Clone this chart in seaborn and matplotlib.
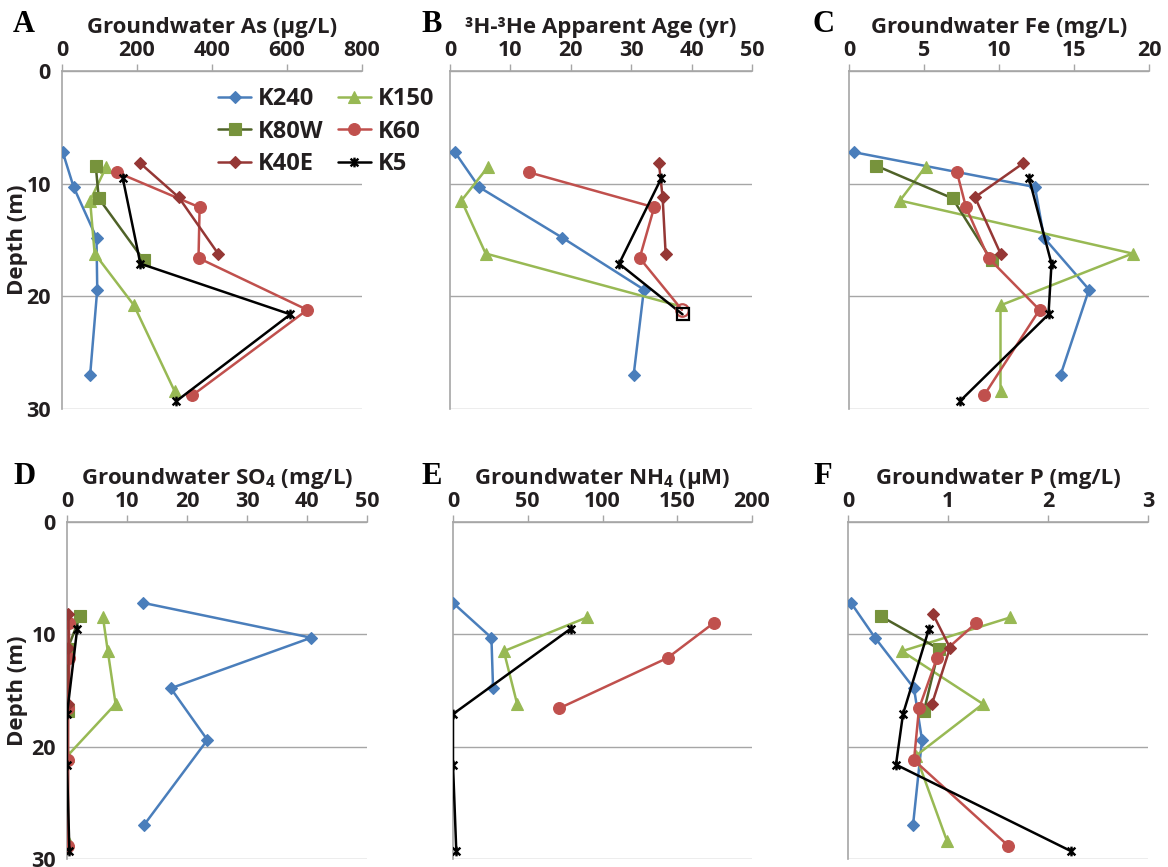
import numpy as np
import matplotlib
matplotlib.use("Agg")
import matplotlib.pyplot as plt
import seaborn as sns
from matplotlib.path import Path

nan = np.nan

WELLS = ["K240", "K150", "K80W", "K60", "K40E", "K5"]

DEPTH = {
    "K240": [7.2, 10.3, 14.8, 19.4, 27.0],
    "K150": [8.5, 11.5, 16.2, 20.8, 28.4],
    "K80W": [8.4, 11.3, 16.8],
    "K60":  [9.0, 12.1, 16.6, 21.2, 28.8],
    "K40E": [8.2, 11.2, 16.2],
    "K5":   [9.5, 17.1, 21.6, 29.3],
}

AS = {
    "K240": [2, 31, 92, 94, 75],
    "K150": [118, 75, 87, 192, 300],
    "K80W": [90, 98, 218],
    "K60":  [147, 367, 364, 654, 347],
    "K40E": [209, 311, 416],
    "K5":   [162, 209, 609, 305],
}

AGE = {
    "K240": [0.8, 4.8, 18.6, 32.1, 30.4],
    "K150": [6.3, 1.9, 5.9, 37.6, nan],
    "K80W": [nan, nan, nan],
    "K60":  [13.1, 33.8, 31.4, 38.4, nan],
    "K40E": [34.6, 35.2, 35.7],
    "K5":   [35.0, 28.0, 38.5, nan],
}

FE = {
    "K240": [0.3, 12.4, 13.0, 16.0, 14.1],
    "K150": [5.1, 3.4, 18.9, 10.1, 10.1],
    "K80W": [1.8, 6.9, 9.5],
    "K60":  [7.2, 7.8, 9.3, 12.7, 9.0],
    "K40E": [11.6, 8.4, 10.1],
    "K5":   [12.0, 13.5, 13.3, 7.4],
}

SO4 = {
    "K240": [12.7, 40.7, 17.3, 23.4, 12.8],
    "K150": [6.0, 6.8, 8.1, 0.1, 0.1],
    "K80W": [2.2, 0.1, 0.2],
    "K60":  [0.3, 0.4, 0.2, 0.2, 0.2],
    "K40E": [0.2, 0.2, 0.2],
    "K5":   [1.7, 0.0, 0.0, 0.4],
}

NH4 = {
    "K240": [0.0, 25.7, 26.8, nan, nan],
    "K150": [89.4, 34.0, 42.9, nan, nan],
    "K80W": [nan, nan, nan],
    "K60":  [174.3, 143.5, 70.8, nan, nan],
    "K40E": [nan, nan, nan],
    "K5":   [78.7, 0.0, 0.0, 2.2],
}

P = {
    "K240": [0.03, 0.27, 0.66, 0.74, 0.65],
    "K150": [1.62, 0.54, 1.35, 0.68, 0.99],
    "K80W": [0.33, 0.91, 0.76],
    "K60":  [1.28, 0.89, 0.71, 0.66, 1.60],
    "K40E": [0.85, 1.02, 0.84],
    "K5":   [0.81, 0.55, 0.48, 2.23],
}

PANELS = [
    ("A", "Groundwater As (µg/L)", AS, [0, 200, 400, 600, 800]),
    ("B", "³H-³He Apparent Age (yr)", AGE, [0, 10, 20, 30, 40, 50]),
    ("C", "Groundwater Fe (mg/L)", FE, [0, 5, 10, 15, 20]),
    ("D", "Groundwater SO$_{4}$ (mg/L)", SO4, [0, 10, 20, 30, 40, 50]),
    ("E", "Groundwater NH$_{4}$ (µM)", NH4, [0, 50, 100, 150, 200]),
    ("F", "Groundwater P (mg/L)", P, [0, 1, 2, 3]),
]

DEPTH_TICKS = [0, 10, 20, 30]

# points in panel B drawn with hollow markers / without marker
B_HOLLOW = {"K60": (3, "o"), "K5": (2, "s")}
B_NOMARK = {"K150": 3}

star = Path([(-1, -1), (1, 1), (-1, 1), (1, -1), (0, -1.25), (0, 1.25)],
            [Path.MOVETO, Path.LINETO, Path.MOVETO, Path.LINETO, Path.MOVETO, Path.LINETO])

STYLE = {
    "K240": dict(color="#4A7EBB", marker="D", ms=6.5, mfc="#4A7EBB", mec="#4A7EBB", mew=0.8),
    "K150": dict(color="#98B954", marker="^", ms=8.5, mfc="#98B954", mec="#98B954", mew=0.8),
    "K80W": dict(color="#4F6228", marker="s", ms=8, mfc="#77933C", mec="#77933C", mew=0.8),
    "K60":  dict(color="#C0504D", marker="o", ms=8.5, mfc="#C0504D", mec="#C0504D", mew=0.8),
    "K40E": dict(color="#953735", marker="D", ms=6.5, mfc="#953735", mec="#953735", mew=0.8),
    "K5":   dict(color="#000000", marker=star, ms=7, mfc="none", mec="#000000", mew=1.7),
}

sns.set_theme(style="white")
FAM = ["Open Sans", "DejaVu Sans"]
plt.rcParams["font.family"] = FAM
plt.rcParams["font.weight"] = "bold"
plt.rcParams["mathtext.fontset"] = "custom"
plt.rcParams["mathtext.rm"] = "Open Sans:bold"
plt.rcParams["mathtext.it"] = "Open Sans:bold"
plt.rcParams["mathtext.bf"] = "Open Sans:bold"
plt.rcParams["legend.numpoints"] = 1

TEXT = "#231F20"
GRID = "#A6A6A6"
FS_TITLE = 16
FS_TICK = 15.5
FS_LEG = 17

fig = plt.figure(figsize=(11.68, 8.67), dpi=100)

positions = [
    (62, 71, 300, 338), (450, 71, 302, 338), (849, 71, 300, 338),
    (67, 522, 300, 337), (453, 522, 299, 337), (848, 522, 300, 337),
]
W, H = 1168, 867

for i, ((letter, title, data, xticks), (px, py, pw, ph)) in enumerate(zip(PANELS, positions)):
    ax = fig.add_axes([px / W, 1 - (py + ph) / H, pw / W, ph / H])
    for well in WELLS:
        st = STYLE[well]
        x = np.array(data[well], dtype=float)
        y = np.array(DEPTH[well], dtype=float)
        ok = ~np.isnan(x)
        if ok.sum() == 0:
            continue
        idx = list(np.where(ok)[0])
        markevery = list(range(len(idx)))
        if letter == "B":
            skip = None
            if well in B_HOLLOW:
                skip = B_HOLLOW[well][0]
            if well in B_NOMARK:
                skip = B_NOMARK[well]
            if skip is not None:
                markevery = [k for k, j in enumerate(idx) if j != skip]
        sns.lineplot(x=x[ok], y=y[ok], sort=False, estimator=None, ax=ax,
                     color=st["color"], lw=1.8, marker=st["marker"],
                     markersize=st["ms"], markerfacecolor=st["mfc"],
                     markeredgecolor=st["mec"], markeredgewidth=st["mew"],
                     markevery=markevery, label=well if letter == "A" else None,
                     zorder=3)
        if letter == "B" and well in B_HOLLOW:
            j, m = B_HOLLOW[well]
            ax.plot([x[j]], [y[j]], linestyle="none", marker=m, ms=9,
                    mfc="none", mec=st["color"], mew=1.6, zorder=4)

    ax.set_xlim(xticks[0], xticks[-1])
    ax.set_ylim(30, 0)
    ax.set_xticks(xticks)
    ax.set_yticks(DEPTH_TICKS)
    ax.xaxis.tick_top()
    ax.xaxis.set_label_position("top")
    ax.set_xlabel(title, fontsize=FS_TITLE, fontweight="bold", color=TEXT, labelpad=5)
    ax.tick_params(axis="x", which="both", direction="out", length=5, width=1,
                   color=GRID, labelsize=FS_TICK, labelcolor=TEXT, pad=2)
    ax.tick_params(axis="y", which="both", direction="out", length=5, width=1,
                   color=GRID, labelsize=FS_TICK, labelcolor=TEXT, pad=3)
    for lab in ax.get_xticklabels() + ax.get_yticklabels():
        lab.set_fontweight("bold")
    ax.grid(axis="y", color=GRID, lw=1)
    ax.grid(axis="x", visible=False)
    for s in ["right", "bottom"]:
        ax.spines[s].set_visible(False)
    for s in ["left", "top"]:
        ax.spines[s].set_color(GRID)
        ax.spines[s].set_linewidth(1.2)
    ax.set_axisbelow(True)
    if i % 3 == 0:
        ax.set_ylabel("Depth (m)", fontsize=FS_TITLE, fontweight="bold", color=TEXT)
        ax.yaxis.set_label_coords((28 - px) / pw, 0.5)
    else:
        ax.set_yticklabels([])
        ax.set_ylabel("")
    ax.set_facecolor("white")

    # panel letter
    lx = {0: 24, 1: 432, 2: 823}[i % 3]
    ly = 24 if i < 3 else 476
    fig.text(lx / W, 1 - ly / H, letter, fontsize=22, fontweight="bold",
             family=["Liberation Serif", "DejaVu Serif"], color="#000000",
             ha="center", va="center")

    if letter == "A":
        handles, labels = ax.get_legend_handles_labels()
        hd = dict(zip(labels, handles))
        order = ["K240", "K80W", "K40E", "K150", "K60", "K5"]
        leg = ax.legend([hd[k] for k in order], order, loc="upper left",
                        bbox_to_anchor=(0.52, 0.953), ncol=2, frameon=False,
                        fontsize=FS_LEG, handlelength=1.4, handletextpad=0.3,
                        columnspacing=0.6, labelspacing=0.37, borderpad=0,
                        borderaxespad=0)
        for t in leg.get_texts():
            t.set_fontweight("bold")
            t.set_color(TEXT)

fig.savefig("out.png", dpi=100, facecolor="white")
